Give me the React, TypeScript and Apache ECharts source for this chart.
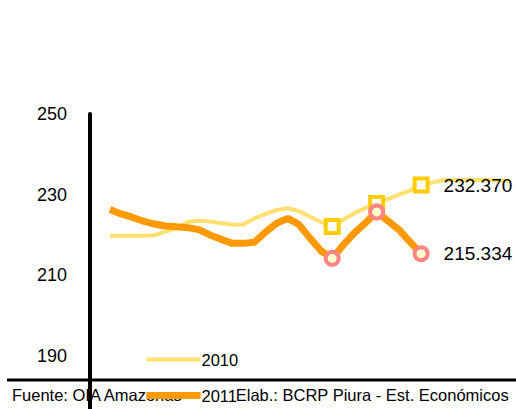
import React, { useEffect, useRef } from 'react';
import * as echarts from 'echarts';

const categories = [
  'S1', 'S2', 'S3', 'S4', 'S5', 'S6', 'S7', 'S8', 'S9', 'S10',
  'S11', 'S12', 'S13', 'S14', 'S15', 'S16', 'S17', 'S18', 'S19', 'S20',
  'S21', 'S22', 'S23', 'S24', 'S25', 'S26', 'S27', 'S28', 'S29', 'S30',
  'S31', 'S32', 'S33', 'S34', 'S35', 'S36', 'S37',
];

const values2010 = [
  219.8, 219.8, 219.8, 219.8, 219.9, 220.8, 221.7, 223.2, 223.5, 223.3,
  222.9, 222.5, 222.6, 224.1, 225.2, 226.2, 226.6, 225.9, 224.5, 223.2,
  222.1, 223.8, 225.4, 226.7, 227.8, 228.9, 230.0, 231.0, 232.37, 233.0,
  233.6, 233.6, 233.7, 233.6, 233.6, 233.5, 233.4,
];

const values2011 = [
  226.3, 225.2, 224.4, 223.4, 222.7, 222.2, 222.0, 221.8, 221.3, 220.0,
  218.9, 217.9, 217.9, 218.2, 220.7, 222.9, 224.1, 222.6, 219.2, 216.0,
  214.2, 217.5, 220.5, 223.0, 225.7, 223.5, 221.3, 218.3, 215.334,
];

const markerIndices = [20, 24, 28];
const labelIndex = 28;
const yTickLabels = [190, 210, 230, 250];
const seriesNames = ['2010', '2011'];
const sourceText = 'Fuente: OIA Amazonas';
const authorText = 'Elab.: BCRP Piura - Est. Económicos';

const W = 516;
const H = 409;
const GRID_LEFT = 110;
const GRID_TOP = 114;
const GRID_BOTTOM = 29;
const GRID_RIGHT = 6;
const AXIS_OFFSET = 20;
const FONT = '"Liberation Sans", Arial, sans-serif';

const COLOR_2010 = '#FFE070';
const COLOR_2011 = '#FF9900';
const WIDTH_2010 = 4;
const WIDTH_2011 = 7;

function buildData(values: number[], marker: any) {
  return values.map((v, i) => {
    const item: any = { value: v };
    if (markerIndices.includes(i)) {
      item.symbol = marker.symbol;
      item.symbolSize = marker.size;
      item.itemStyle = marker.itemStyle;
    }
    if (i === labelIndex) {
      item.label = {
        show: true,
        position: 'right',
        distance: 14,
        formatter: (p: any) => Number(p.value).toFixed(3),
        fontSize: 19,
        fontFamily: FONT,
        color: '#000',
      };
    }
    return item;
  });
}

export default function App() {
  const ref = useRef<HTMLDivElement>(null);

  useEffect(() => {
    if (!ref.current) return;
    const chart = echarts.init(ref.current, null, { renderer: 'svg' });
    const axisX = GRID_LEFT - AXIS_OFFSET;
    const baseY = H - GRID_BOTTOM;

    chart.setOption({
      animation: false,
      backgroundColor: '#fff',
      grid: { left: GRID_LEFT, right: GRID_RIGHT, top: GRID_TOP, bottom: GRID_BOTTOM },
      xAxis: {
        type: 'category',
        data: categories,
        boundaryGap: false,
        axisLine: { show: false },
        axisTick: { show: false },
        axisLabel: { show: false },
        splitLine: { show: false },
      },
      yAxis: {
        type: 'value',
        min: 184,
        max: 250,
        offset: AXIS_OFFSET,
        axisLine: { show: true, lineStyle: { color: '#000', width: 4 } },
        axisTick: { show: false },
        splitLine: { show: false },
        axisLabel: {
          customValues: yTickLabels,
          margin: 23,
          fontSize: 18,
          fontFamily: FONT,
          color: '#000',
        },
      },
      legend: {
        orient: 'vertical',
        left: 143,
        top: 351,
        padding: 0,
        itemWidth: 54,
        itemHeight: 14,
        itemGap: 19,
        data: [
          { name: seriesNames[0], lineStyle: { width: WIDTH_2010, color: COLOR_2010 }, itemStyle: { opacity: 0 } },
          { name: seriesNames[1], lineStyle: { width: WIDTH_2011, color: COLOR_2011 }, itemStyle: { opacity: 0 } },
        ],
        textStyle: { fontSize: 16.5, fontFamily: FONT, color: '#000', padding: [0, 0, 0, -4] },
      },
      series: [
        {
          name: seriesNames[0],
          type: 'line',
          symbol: 'none',
          showSymbol: true,
          showAllSymbol: true,
          lineStyle: { color: COLOR_2010, width: WIDTH_2010 },
          itemStyle: { color: COLOR_2010 },
          data: buildData(values2010, {
            symbol: 'rect',
            size: 13,
            itemStyle: { color: '#FFFFFF', borderColor: '#FFCC00', borderWidth: 4 },
          }),
          z: 2,
        },
        {
          name: seriesNames[1],
          type: 'line',
          symbol: 'none',
          showSymbol: true,
          showAllSymbol: true,
          lineStyle: { color: COLOR_2011, width: WIDTH_2011 },
          itemStyle: { color: COLOR_2011 },
          data: buildData(values2011, {
            symbol: 'circle',
            size: 13,
            itemStyle: { color: '#FFFFCC', borderColor: '#FF8585', borderWidth: 4 },
          }),
          z: 3,
        },
      ],
      graphic: [
        {
          type: 'text',
          z: 0,
          left: 12,
          top: 386,
          style: { text: sourceText, fontSize: 16.5, fontFamily: FONT, fill: '#000' },
        },
        {
          type: 'text',
          z: 0,
          right: 7,
          top: 386,
          style: { text: authorText, fontSize: 16.5, fontFamily: FONT, fill: '#000' },
        },
        {
          type: 'line',
          z: 5,
          shape: { x1: 7, y1: baseY, x2: W, y2: baseY },
          style: { stroke: '#000', lineWidth: 3 },
        },
        {
          type: 'line',
          z: 5,
          shape: { x1: axisX, y1: baseY, x2: axisX, y2: H },
          style: { stroke: '#000', lineWidth: 4 },
        },
      ],
    });
    return () => chart.dispose();
  }, []);

  return (
    <div
      ref={ref}
      style={{ position: 'absolute', left: 0, top: 0, width: W, height: H }}
    />
  );
}
